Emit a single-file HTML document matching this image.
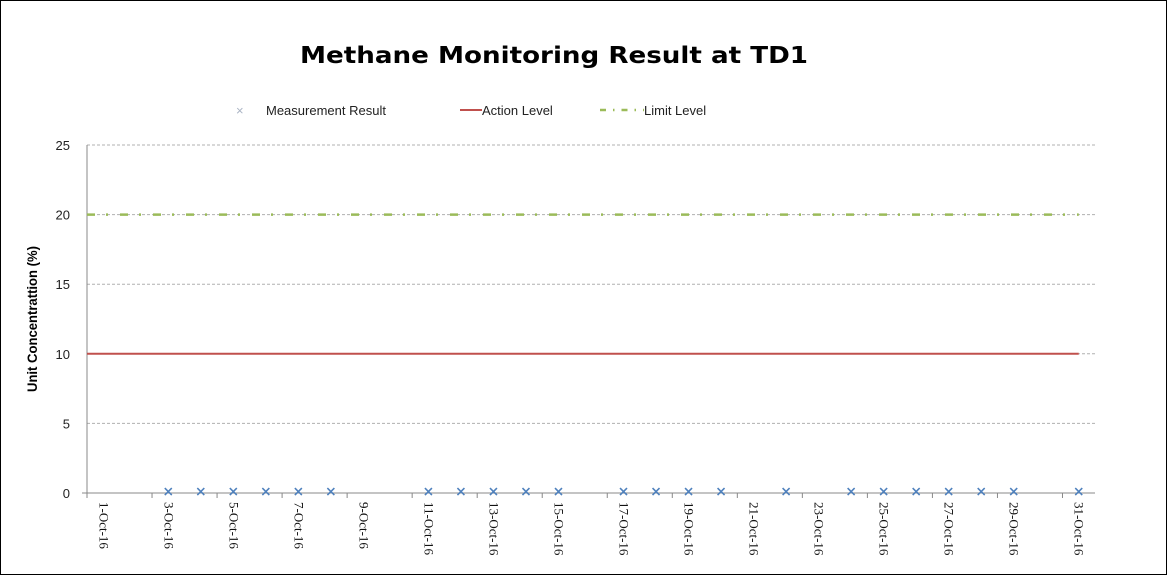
<!DOCTYPE html>
<html><head><meta charset="utf-8"><style>
body{margin:0;background:#fff}
svg{display:block;font-family:"Liberation Sans",sans-serif}
</style></head><body>
<svg id="chart" width="1167" height="575" viewBox="0 0 1167 575">
<rect x="0.5" y="0.5" width="1166" height="574" fill="#fff" stroke="#000" stroke-width="1"/>
<text x="300" y="63" textLength="508" lengthAdjust="spacingAndGlyphs" font-size="23" font-weight="bold" font-family="DejaVu Sans, sans-serif">Methane Monitoring Result at TD1</text>
<g>
 <g>
  <text x="236" y="115" font-size="13" fill="#aab4c4">×</text>
  <text x="266" y="115" font-size="13" fill="#222">Measurement Result</text>
 </g>
 <g>
  <line x1="460" y1="110" x2="482" y2="110" stroke="#c0504d" stroke-width="2"/>
  <text x="482" y="115" font-size="13" fill="#222">Action Level</text>
 </g>
 <g>
  <line x1="600" y1="110" x2="644" y2="110" stroke="#9bbb59" stroke-width="2.5" stroke-dasharray="6,7,1.5,7"/>
  <text x="644" y="115" font-size="13" fill="#222">Limit Level</text>
 </g>
</g>
<text transform="translate(37,319) rotate(-90)" text-anchor="middle" font-size="14" font-weight="bold" textLength="146" lengthAdjust="spacingAndGlyphs">Unit Concentrattion (%)</text>
<g id="plot"></g>
</svg>
<script>
const days = Array.from({length:31},(_,i)=>(i+1)+"-Oct-16");
const measDays = [3,4,5,6,7,8,11,12,13,14,15,17,18,19,20,22,24,25,26,27,28,29,31];
const measValues = [0.1,0.1,0.1,0.1,0.1,0.1,0.1,0.1,0.1,0.1,0.1,0.1,0.1,0.1,0.1,0.1,0.1,0.1,0.1,0.1,0.1,0.1,0.1];
const actionLevel = [10];
const limitLevel = [20];
const yTicks = [0,5,10,15,20,25];

const NS="http://www.w3.org/2000/svg";
const L=87,R=1095,T=145,B=493,YMAX=25;
const step=(R-L)/days.length;
const x=i=>L+(i+0.5)*step;
const y=v=>B-(v/YMAX)*(B-T);
const g=document.getElementById('plot');
function mk(tag,attrs){const e=document.createElementNS(NS,tag);for(const k in attrs)e.setAttribute(k,attrs[k]);g.appendChild(e);return e;}

yTicks.forEach(v=>{
  if(v>0){const gl=mk('line',{x1:L,x2:R,y1:y(v),y2:y(v),stroke:'#b0b0b0','stroke-dasharray':'3,2','stroke-width':1});
  
  }
  const t=mk('text',{x:L-17,y:y(v)+5,'text-anchor':'end','font-size':13,fill:'#222'});
  t.textContent=v;
  
  
});
const ya=mk('line',{x1:L,x2:L,y1:T,y2:B,stroke:'#888'});


const xa=mk('line',{x1:L-5,x2:R,y1:B,y2:B,stroke:'#888'});



days.forEach((d,i)=>{
  if(i%2===0){
    const tk=mk('line',{x1:L+i*step,x2:L+i*step,y1:B,y2:B+5,stroke:'#888'});
    
    
    const t=mk('text',{transform:`translate(${x(i)-4},${B+9}) rotate(90)`,'font-size':13,'font-family':'Liberation Serif, serif',fill:'#111'});
    t.textContent=d;
    
    
  }
});

const al=mk('line',{x1:L,x2:x(30),y1:y(actionLevel[0]),y2:y(actionLevel[0]),stroke:'#c0504d','stroke-width':2});


const ll=mk('line',{x1:L,x2:x(30),y1:y(limitLevel[0]),y2:y(limitLevel[0]),stroke:'#9bbb59','stroke-width':2.5,'stroke-dasharray':'8,11,2,12'});



measDays.forEach((d,k)=>{
  const cx=x(d-1),cy=y(measValues[k]);
  const p=mk('path',{d:`M${cx-3.5},${cy-3.5}L${cx+3.5},${cy+3.5}M${cx-3.5},${cy+3.5}L${cx+3.5},${cy-3.5}`,stroke:'#4f81bd','stroke-width':1.6});
  
  
});
</script>
</body></html>
